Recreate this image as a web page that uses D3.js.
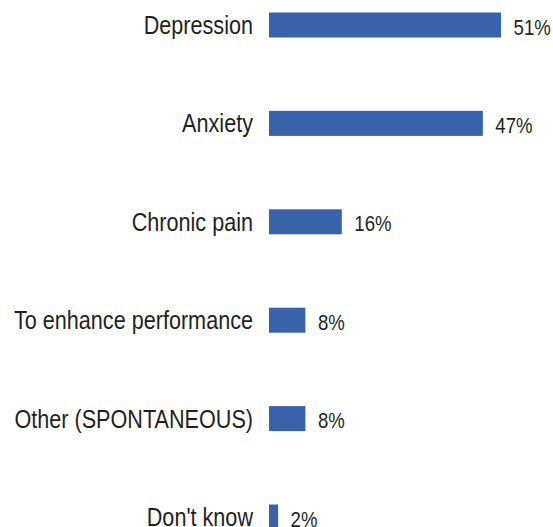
<!DOCTYPE html>
<html>
<head>
<meta charset="utf-8">
<script src="https://cdn.jsdelivr.net/npm/d3@7"></script>
<style>
  html, body { margin: 0; padding: 0; background: #fff; }
  svg { display: block; }
  text { font-family: "Liberation Sans", Arial, sans-serif; fill: #231f20; }
</style>
</head>
<body>
<svg id="chart" width="553" height="527"></svg>
<script>
const categories = ["Depression", "Anxiety", "Chronic pain", "To enhance performance", "Other (SPONTANEOUS)", "Don't know"];
const values = [51, 47, 16, 8, 8, 2];
const valueLabels = ["51%", "47%", "16%", "8%", "8%", "2%"];

const svg = d3.select("#chart");
const x = d3.scaleLinear().domain([0, 100]).range([269, 724]);
const y = d3.scalePoint().domain(categories).range([25, 517]);
const barH = 25;
const squeeze = 0.865;

const data = categories.map((c, i) => ({ c, v: values[i], l: valueLabels[i] }));

svg.selectAll("rect.bar").data(data).join("rect")
  .attr("class", "bar")
  .attr("x", x(0))
  .attr("y", d => y(d.c) - barH / 2)
  .attr("width", d => x(d.v) - x(0))
  .attr("height", barH)
  .attr("fill", "#3862a9");

svg.selectAll("text.cat").data(data).join("text")
  .attr("class", "cat")
  .attr("transform", d => `translate(${x(0) - 16},${y(d.c) + 9}) scale(${squeeze},1)`)
  .attr("text-anchor", "end")
  .style("font-size", "25px")
  .text(d => d.c);

svg.selectAll("text.val").data(data).join("text")
  .attr("class", "val")
  .attr("transform", d => `translate(${x(d.v) + 12.5},${y(d.c) + 9.5}) scale(0.845,1)`)
  .style("font-size", "22px")
  .text(d => d.l);
</script>
</body>
</html>
